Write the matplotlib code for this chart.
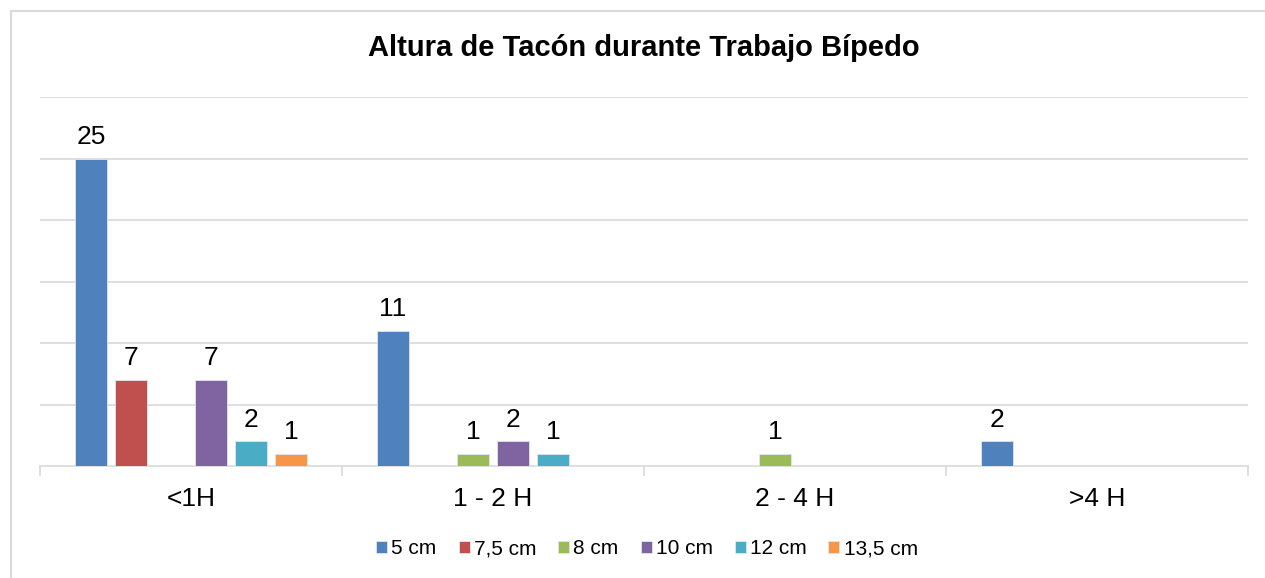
import numpy as np
import matplotlib
matplotlib.use('Agg')
import matplotlib.pyplot as plt
from matplotlib.patches import Rectangle

plt.rcParams['font.family'] = ['Liberation Sans', 'DejaVu Sans']

categories = ['<1H', '1 - 2 H', '2 - 4 H', '>4 H']
series_names = ['5 cm', '7,5 cm', '8 cm', '10 cm', '12 cm', '13,5 cm']
values = {
    '5 cm':    [25, 11, 0, 2],
    '7,5 cm':  [7, 0, 0, 0],
    '8 cm':    [0, 1, 1, 0],
    '10 cm':   [7, 2, 0, 0],
    '12 cm':   [2, 1, 0, 0],
    '13,5 cm': [1, 0, 0, 0],
}
colors = ['#4F81BD', '#C0504D', '#9BBB59', '#8064A2', '#4BACC6', '#F79646']

fig = plt.figure(figsize=(12.65, 5.78), dpi=100)
ax = fig.add_axes([40 / 1265, 1 - 466 / 578, 1208 / 1265, 369 / 578])

# frame around the chart (right/bottom edges are cut off in the original)
fig.patches.append(Rectangle((11 / 1265, -0.1), 1.2, 1 - 11 / 578 + 0.1,
                             transform=fig.transFigure, fill=False,
                             edgecolor='#D9D9D9', linewidth=1.5))

x = np.arange(len(categories)) + 0.5
step = 40 / 302
width = 32 / 302
n = len(series_names)
for i, name in enumerate(series_names):
    offs = (i - (n - 1) / 2) * step
    bars = ax.bar(x + offs, values[name], width, color=colors[i],
                  edgecolor='#dfe6f0', linewidth=0.6, label=name, zorder=3)
    labels = [str(v) if v else '' for v in values[name]]
    ax.bar_label(bars, labels=labels, padding=7, fontsize=19)

ax.set_xlim(0, len(categories))
ax.set_ylim(0, 30)
ax.set_yticks([])
for yv in [5, 10, 15, 20, 25, 30]:
    ax.axhline(yv, color='#D9D9D9', linewidth=1.2, zorder=1)

ax.set_xticks(np.arange(len(categories) + 1))
ax.set_xticklabels([])
ax.set_xticks(x, minor=True)
ax.set_xticklabels(categories, minor=True, fontsize=19)
ax.tick_params(axis='x', which='major', length=7, color='#D9D9D9', width=1.2)
ax.tick_params(axis='x', which='minor', length=0, pad=15)

for s in ['top', 'right', 'left']:
    ax.spines[s].set_visible(False)
ax.spines['bottom'].set_color('#D9D9D9')
ax.spines['bottom'].set_linewidth(1.2)

fig.text(643.5 / 1265, 1 - 48 / 578, 'Altura de Tacón durante Trabajo Bípedo',
         ha='center', va='center', fontsize=21, fontweight='bold')

fig.legend(loc='center', bbox_to_anchor=(647 / 1265, 1 - 549 / 578), ncol=6,
           frameon=False, fontsize=15, handlelength=0.53, handleheight=0.53,
           handletextpad=0.2, columnspacing=1.05)

fig.savefig('out.png', dpi=100)
